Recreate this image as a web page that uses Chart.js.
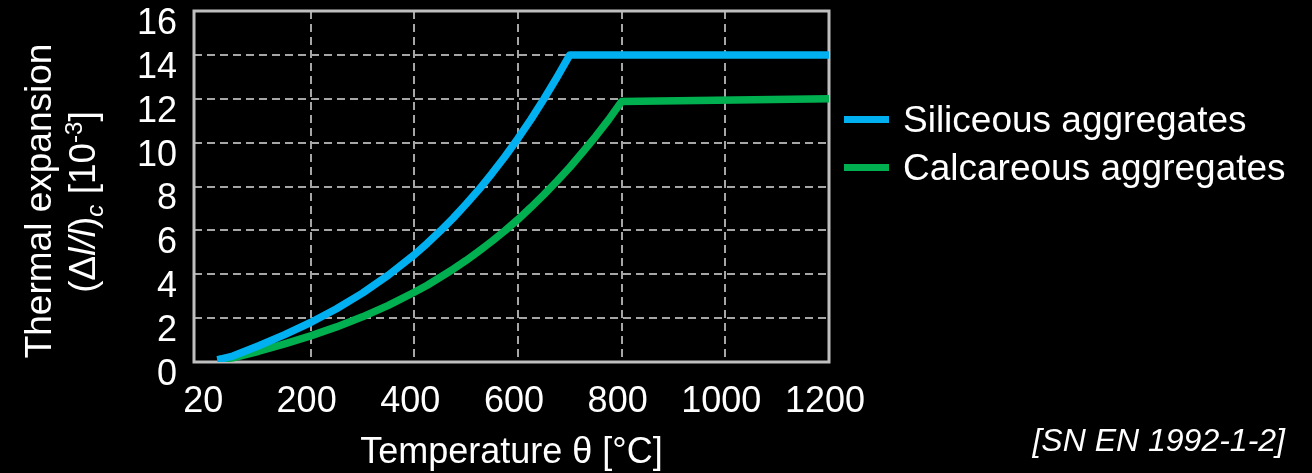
<!DOCTYPE html>
<html>
<head>
<meta charset="utf-8">
<script src="https://cdn.jsdelivr.net/npm/chart.js"></script>
<style>
  html, body { margin: 0; padding: 0; background: #000; }
  #wrap { width: 1312px; height: 473px; position: relative; }
</style>
</head>
<body>
<div id="wrap"><canvas id="chart"></canvas></div>
<script>
// values (strain in 10^-3)
var seriesNames = ['Siliceous aggregates', 'Calcareous aggregates'];
var seriesColors = ['#00b0f0', '#00b050'];
var tempSiliceous = [20, 50, 100, 150, 200, 250, 300, 350, 400, 425, 450, 475, 500, 525, 550, 575, 600, 625, 650, 675, 700, 1200];
var strainSiliceous = [0.1, 0.27, 0.74, 1.25, 1.8, 2.43, 3.14, 3.96, 4.89, 5.41, 5.97, 6.56, 7.2, 7.87, 8.6, 9.37, 10.19, 11.06, 11.99, 12.97, 14.0, 14.0];
var tempCalcareous = [20, 50, 100, 150, 200, 250, 300, 350, 400, 425, 450, 475, 500, 525, 550, 575, 600, 625, 650, 675, 700, 725, 750, 775, 800, 1200];
var strainCalcareous = [0.1, 0.19, 0.49, 0.83, 1.19, 1.6, 2.06, 2.58, 3.18, 3.5, 3.86, 4.23, 4.63, 5.06, 5.51, 5.99, 6.5, 7.05, 7.63, 8.24, 8.88, 9.57, 10.29, 11.05, 11.88, 12.0];
var xTicks = [20, 200, 400, 600, 800, 1000, 1200];
var yTicks = [0, 2, 4, 6, 8, 10, 12, 14, 16];
var xTitle = 'Temperature \u03b8 [\u00b0C]';
var sourceNote = '[SN EN 1992-1-2]';

var FONT = "'Liberation Sans', Arial, sans-serif";
var GRID = '#a6a6a6';
var FRAME = '#bfbfbf';

function toPoints(xs, ys) {
    return xs.map(function (x, i) { return { x: x, y: ys[i] }; });
}

// draws a run of text pieces rotated -90deg, centred on cy, baseline at bx
function drawRotatedRich(ctx, parts, bx, cy) {
    var total = 0;
    parts.forEach(function (p) {
        ctx.font = p.font;
        p.w = ctx.measureText(p.t).width;
        total += p.w;
    });
    ctx.save();
    ctx.translate(bx, cy);
    ctx.rotate(-Math.PI / 2);
    ctx.textBaseline = 'alphabetic';
    ctx.textAlign = 'left';
    var x = -total / 2;
    parts.forEach(function (p) {
        ctx.font = p.font;
        ctx.fillText(p.t, x, p.dy || 0);
        x += p.w;
    });
    ctx.restore();
}

var extras = {
    id: 'extras',
    beforeDatasetsDraw: function (chart) {
        var a = chart.chartArea, ctx = chart.ctx;
        ctx.save();
        ctx.strokeStyle = FRAME;
        ctx.lineWidth = 3;
        ctx.strokeRect(a.left, a.top, a.right - a.left, a.bottom - a.top);
        ctx.restore();
    },
    afterDraw: function (chart) {
        var ctx = chart.ctx;
        ctx.save();

        // legend
        var rows = [120, 168];
        chart.data.datasets.forEach(function (ds, i) {
            ctx.fillStyle = ds.borderColor;
            ctx.fillRect(844, rows[i] - 4, 45, 7);
            ctx.fillStyle = '#fff';
            ctx.font = '37px ' + FONT;
            ctx.textBaseline = 'middle';
            ctx.textAlign = 'left';
            ctx.fillText(ds.label, 903, rows[i] + 2);
        });

        // y axis title, two lines
        ctx.fillStyle = '#fff';
        var n = '37px ' + FONT, it = 'italic 37px ' + FONT;
        var sm = '24px ' + FONT, smi = 'italic 24px ' + FONT;
        drawRotatedRich(ctx, [{ t: 'Thermal expansion', font: n }], 51, 201);
        drawRotatedRich(ctx, [
            { t: '(\u0394', font: n },
            { t: 'l/l', font: it },
            { t: ')', font: n },
            { t: 'c', font: smi, dy: 8 },
            { t: ' [10', font: n },
            { t: '-3', font: sm, dy: -13 },
            { t: ']', font: n }
        ], 95, 202);

        // source
        ctx.font = 'italic 32px ' + FONT;
        ctx.textAlign = 'right';
        ctx.textBaseline = 'middle';
        ctx.fillText(sourceNote, 1285, 442);
        ctx.restore();
    }
};

var chart = new Chart(document.getElementById('chart'), {
    type: 'line',
    data: {
        datasets: [{
            label: seriesNames[0],
            data: toPoints(tempSiliceous, strainSiliceous),
            borderColor: seriesColors[0],
            backgroundColor: seriesColors[0],
            borderWidth: 7.5,
            borderJoinStyle: 'round',
            pointRadius: 0,
            tension: 0
        }, {
            label: seriesNames[1],
            data: toPoints(tempCalcareous, strainCalcareous),
            borderColor: seriesColors[1],
            backgroundColor: seriesColors[1],
            borderWidth: 7.5,
            borderJoinStyle: 'round',
            pointRadius: 0,
            tension: 0
        }]
    },
    options: {
        responsive: true,
        maintainAspectRatio: false,
        animation: false,
        layout: { padding: { top: 11, right: 483, left: 0, bottom: 0 } },
        plugins: {
            legend: { display: false },
            tooltip: { enabled: false }
        },
        scales: {
            x: {
                type: 'linear',
                min: -25,
                max: 1200,
                afterBuildTicks: function (axis) {
                    axis.ticks = xTicks.map(function (v) { return { value: v }; });
                },
                afterFit: function (axis) {
                    axis.height = 111;
                    axis.paddingLeft = 0;
                    axis.paddingRight = 0;
                },
                grid: {
                    drawTicks: false,
                    lineWidth: 2,
                    color: function (ctx) {
                        var v = ctx.tick ? ctx.tick.value : null;
                        return (v === 20 || v === 1200) ? 'rgba(0,0,0,0)' : GRID;
                    }
                },
                border: { display: false, dash: [8, 5] },
                ticks: {
                    color: '#fff',
                    font: { family: FONT, size: 36 },
                    padding: 18,
                    maxRotation: 0,
                    autoSkip: false,
                    labelOffset: -4,
                    // the first label sits a bit left of its point in the original
                    callback: function (v) { return v === 20 ? '20  ' : String(v); }
                },
                title: {
                    display: true,
                    text: xTitle,
                    color: '#fff',
                    font: { family: FONT, size: 36, lineHeight: 1.1 },
                    padding: { top: 0, bottom: 0 }
                }
            },
            y: {
                min: 0,
                max: 16,
                afterBuildTicks: function (axis) {
                    axis.ticks = yTicks.map(function (v) { return { value: v }; });
                },
                afterFit: function (axis) {
                    axis.width = 194;
                    axis.paddingTop = 0;
                    axis.paddingBottom = 0;
                },
                grid: {
                    drawTicks: false,
                    lineWidth: 2,
                    color: function (ctx) {
                        var v = ctx.tick ? ctx.tick.value : null;
                        return (v === 0 || v === 16) ? 'rgba(0,0,0,0)' : GRID;
                    }
                },
                border: { display: false, dash: [8, 5] },
                ticks: {
                    color: '#fff',
                    font: { family: FONT, size: 36 },
                    padding: 17,
                    autoSkip: false,
                    labelOffset: 13
                }
            }
        }
    },
    plugins: [extras]
});
</script>
</body>
</html>
